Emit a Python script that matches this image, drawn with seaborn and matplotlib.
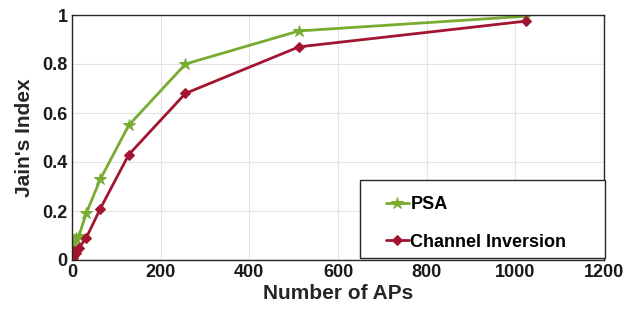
import matplotlib
matplotlib.use("Agg")
import matplotlib.pyplot as plt
from matplotlib.patches import Rectangle
import seaborn as sns
import pandas as pd

aps = [1, 2, 4, 8, 16, 32, 64, 128, 256, 512, 1024]
psa = [0.05, 0.07, 0.08, 0.09, 0.10, 0.19, 0.33, 0.55, 0.80, 0.935, 0.995]
chan_inv = [0.04, 0.01, 0.02, 0.03, 0.05, 0.09, 0.21, 0.43, 0.68, 0.87, 0.975]
series_names = ["PSA", "Channel Inversion"]
x_ticks = [0, 200, 400, 600, 800, 1000, 1200]
y_ticks = [0, 0.2, 0.4, 0.6, 0.8, 1]
y_labels = ["0", "0.2", "0.4", "0.6", "0.8", "1"]

df = pd.DataFrame({
    "APs": aps * 2,
    "Jain": psa + chan_inv,
    "Scheme": [series_names[0]] * len(aps) + [series_names[1]] * len(aps),
})

sns.set_style("white")
plt.rcParams["font.family"] = ["Liberation Sans", "DejaVu Sans"]
plt.rcParams["font.weight"] = "bold"
plt.rcParams["text.color"] = "black"
plt.rcParams["axes.labelcolor"] = "#262626"
plt.rcParams["xtick.color"] = "#262626"
plt.rcParams["ytick.color"] = "#262626"

fig = plt.figure(figsize=(6.44, 3.24), dpi=100)
ax = fig.add_axes([72 / 644, 1 - 260 / 324, (604 - 72) / 644, (260 - 15) / 324])

palette = {"PSA": "#77AC30", "Channel Inversion": "#A2142F"}
markers = {"PSA": "*", "Channel Inversion": "D"}
for name in series_names:
    sub = df[df["Scheme"] == name]
    sns.lineplot(data=sub, x="APs", y="Jain", ax=ax, color=palette[name],
                 marker=markers[name], markersize=9 if name == "PSA" else 5,
                 markeredgecolor=palette[name], linewidth=2, label=name)

ax.set_xlim(0, 1200)
ax.set_ylim(0, 1)
ax.set_xticks(x_ticks)
ax.set_yticks(y_ticks)
ax.set_yticklabels(y_labels)
ax.tick_params(axis="both", labelsize=13, direction="in", length=4, width=1, pad=3,
               labelcolor="#1a1a1a")
for lbl in ax.get_xticklabels() + ax.get_yticklabels():
    lbl.set_fontweight("bold")
ax.grid(True, color="#e3e3e3", linewidth=0.8)
for s in ax.spines.values():
    s.set_visible(True)
    s.set_color("#262626")
    s.set_linewidth(1)
ax.set_xlabel("Number of APs", fontsize=15, fontweight="bold", labelpad=2)
ax.set_ylabel("Jain's Index", fontsize=15, fontweight="bold", labelpad=6)

# legend frame
frame = Rectangle(((360 - 72) / 532, 2 / 245), (605 - 360) / 532, 78 / 245,
                  transform=ax.transAxes, facecolor="white", edgecolor="#262626",
                  linewidth=1, clip_on=False, zorder=4)
ax.add_patch(frame)

leg = ax.legend(loc="upper left", bbox_to_anchor=((386 - 72) / 532, (260 - 196) / 245),
                frameon=False, fontsize=13, borderpad=0.0, labelspacing=1.15,
                handlelength=1.25, handletextpad=0.1, borderaxespad=0.0)
leg.set_zorder(5)
for t in leg.get_texts():
    t.set_fontweight("bold")
    t.set_color("black")
fig.savefig("out.png", dpi=100)
